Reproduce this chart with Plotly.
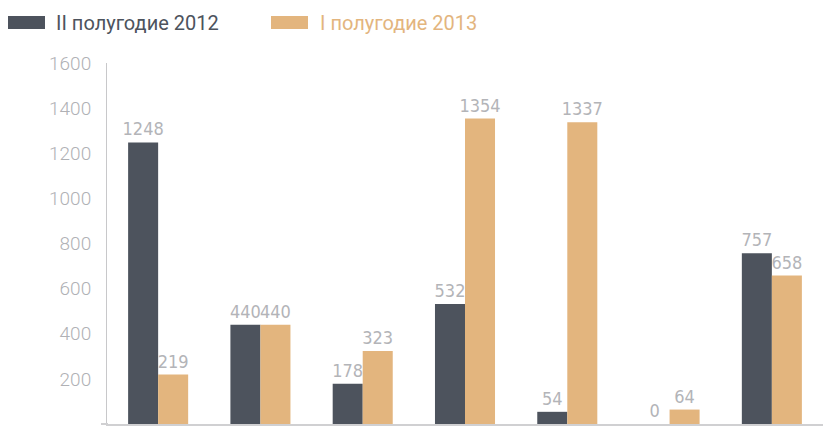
import plotly.graph_objects as go

categories = ["1", "2", "3", "4", "5", "6", "7"]
series_names = ["II полугодие 2012", "I полугодие 2013"]
values_2012 = [1248, 440, 178, 532, 54, 0, 757]
values_2013 = [219, 440, 323, 1354, 1337, 64, 658]
y_ticks = [0, 200, 400, 600, 800, 1000, 1200, 1400, 1600]

dark = "#4d535d"
gold = "#e3b57e"
label_grey = "#b3b4b8"
label_font = "DejaVu Sans Condensed, sans-serif"

fig = go.Figure()
for name, vals, col in [(series_names[0], values_2012, dark), (series_names[1], values_2013, gold)]:
    fig.add_trace(go.Bar(
        x=categories, y=vals, name=name, marker=dict(color=col, line=dict(width=0)),
        text=[str(v) for v in vals], textposition="outside", cliponaxis=False,
        constraintext="none",
        textfont=dict(family=label_font, size=18, color=label_grey),
        showlegend=False,
    ))

W, H = 823, 427
ml, mr, mt, mb = 107, 0, 63, 3

def px(x):
    return (x - ml) / (W - ml - mr)

def py(y):
    return (H - mb - y) / (H - mt - mb)

shapes = []
annotations = []
legend_items = [(series_names[0], dark, 8, 45, 54), (series_names[1], gold, 271, 308, 318)]
for name, col, x0, x1, tx in legend_items:
    shapes.append(dict(type="rect", xref="paper", yref="paper", x0=px(x0), x1=px(x1),
                       y0=py(29), y1=py(16), fillcolor=col, line=dict(width=0), layer="above"))
    annotations.append(dict(text=name, xref="paper", yref="paper", x=px(tx), y=py(22.5),
                            xanchor="left", yanchor="middle", showarrow=False,
                            font=dict(family="Roboto", size=20, color=col, weight=400)))

shapes.append(dict(type="line", xref="paper", yref="paper", x0=px(101), x1=px(108),
                   y0=0, y1=0, line=dict(color="#d0d0d2", width=2)))

fig.update_layout(
    width=W, height=H,
    margin=dict(l=ml, r=mr, t=mt, b=mb, pad=0),
    paper_bgcolor="white", plot_bgcolor="white",
    barmode="group", bargap=0.413, bargroupgap=0,
    shapes=shapes, annotations=annotations,
    xaxis=dict(range=[-0.5, 6.5], showticklabels=False, showgrid=False, zeroline=False,
               showline=True, linecolor="#d0d0d2", linewidth=2, ticks=""),
    yaxis=dict(range=[0, 1600], tickvals=y_ticks, showgrid=False, zeroline=False,
               showline=True, linecolor="#c8c8ca", linewidth=1, ticks="",
               ticklabelstandoff=11,
               tickfont=dict(family="Roboto", size=19, color="#b0b1b5", weight=300)),
)

fig.write_html("out.html")
